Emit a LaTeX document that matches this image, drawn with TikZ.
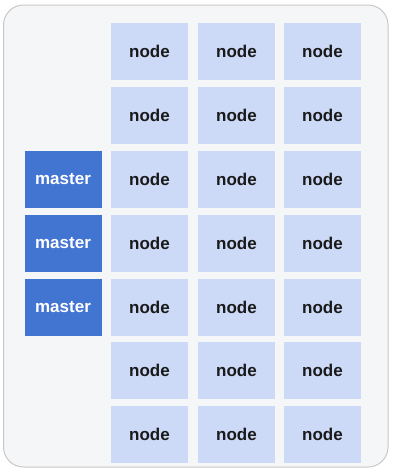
\documentclass[tikz,border=0pt]{standalone}
\usepackage{fontspec}
\setmainfont{Liberation Sans}
\definecolor{cardbg}{HTML}{F5F6F8}
\definecolor{cardline}{HTML}{C8C8C8}
\definecolor{nodefill}{HTML}{CCD9F7}
\definecolor{masterfill}{HTML}{4274D2}
\definecolor{nodetext}{HTML}{1A1A1A}
\begin{document}
\begin{tikzpicture}[x=1pt,y=-1pt,
  cell/.style={minimum width=77pt,minimum height=57pt,inner sep=0pt,font=\fontsize{17}{20}\selectfont\bfseries},
  worker/.style={cell,fill=nodefill,text=nodetext},
  mastercell/.style={cell,fill=masterfill,text=white}]
\useasboundingbox (0,0) rectangle (394,469);
\fill[white] (0,0) rectangle (394,469);
\draw[cardline,fill=cardbg,line width=1pt,rounded corners=20pt] (3.5,5) rectangle (388,467);
\foreach \r [count=\i] in {51.5,115.5,179.5,243,307,370.5,434.5}{
  \foreach \c [count=\j] in {149.5,236.5,322.5}{
    \node[worker] (n\i\j) at (\c,\r) {node};
  }
}
\node[mastercell] (m1) at (63,179.5) {master};
\node[mastercell] (m2) at (63,243) {master};
\node[mastercell] (m3) at (63,307) {master};
\end{tikzpicture}
\end{document}
